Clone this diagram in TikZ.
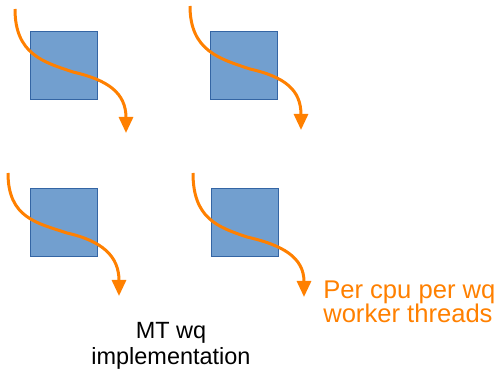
\documentclass[tikz,border=0pt]{standalone}
\usepackage{fontspec}
\setmainfont{Liberation Sans}
\usetikzlibrary{arrows.meta}
\definecolor{morange}{rgb}{1, 0.5, 0}
\definecolor{mblue}{HTML}{729FCF}
\definecolor{mdblue}{HTML}{3465A4}
\tikzset{cpu/.style = {draw=mdblue, fill=mblue, line width=0.6pt, inner sep=0,
                       minimum width=50.25pt, minimum height=51pt, anchor=north west},
         flow/.style = {morange, line width=2.25pt,
                        -{Triangle[length=12pt, width=10.5pt]}}}

\begin{document}
\begin{tikzpicture}[x=0.75pt, y=-0.75pt]
    \useasboundingbox (0, 0) rectangle (500, 370);

    \foreach \n/\x/\y in {1/30/31, 2/210/31, 3/30/188, 4/211/188}
      \node [cpu] (cpu\n) at (\x, \y) {};

    % each worker thread runs down through its cpu
    \coordinate (s1) at (15, 9);   \coordinate (m1) at (73, 72);   \coordinate (t1) at (126, 133);
    \coordinate (s2) at (190, 6);  \coordinate (m2) at (250, 69);  \coordinate (t2) at (301, 130);
    \coordinate (s3) at (8, 173);  \coordinate (m3) at (67, 233);  \coordinate (t3) at (119, 296);
    \coordinate (s4) at (193, 173);\coordinate (m4) at (247, 237); \coordinate (t4) at (304, 297);

    \foreach \n in {1, ..., 4} {
      \draw [flow] (s\n) .. controls +(0, 45) and +(-30, -10) .. (m\n)
                         .. controls +(35, 8) and +(0, -40) .. (t\n);
    }

    % base sits on the last line
    \node [morange, anchor=base west, align=left, inner sep=0,
           font=\fontsize{19.2}{18}\selectfont] (note) at (323, 323)
      {Per cpu per wq\\worker threads};
    \node [anchor=base, align=center, inner sep=0,
           font=\fontsize{17.6}{20}\selectfont] (label) at (171, 365)
      {MT wq\\implementation};
\end{tikzpicture}
\end{document}
